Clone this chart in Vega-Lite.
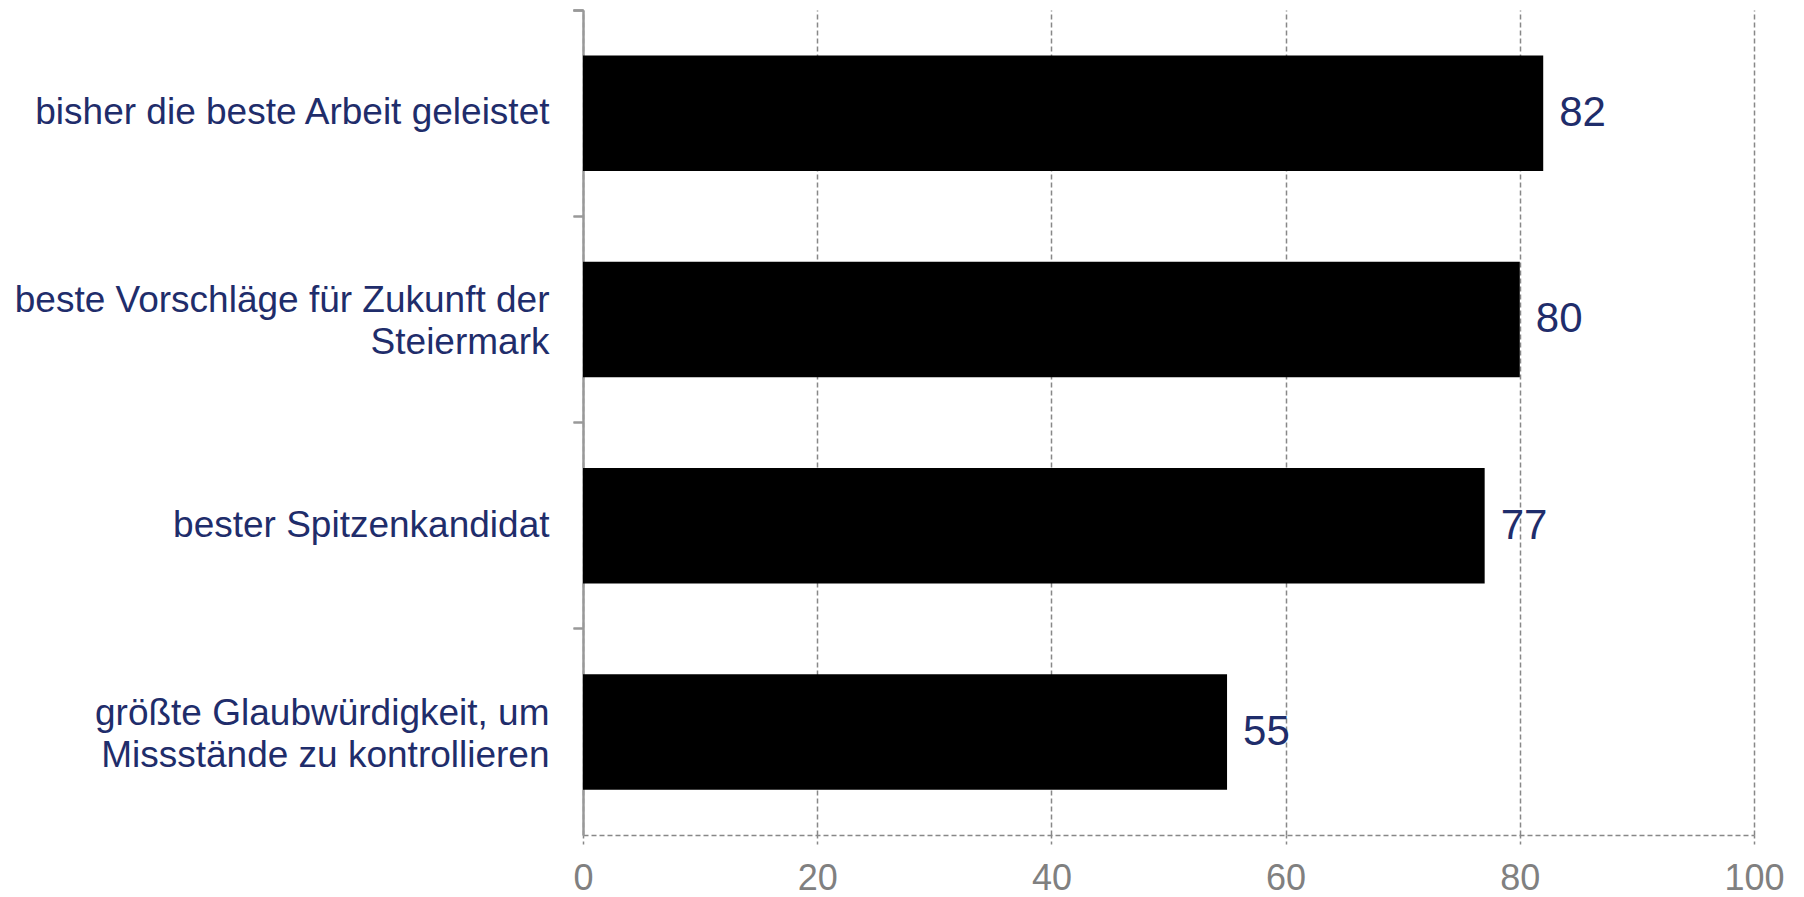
{
  "$schema": "https://vega.github.io/schema/vega-lite/v6.json",
  "width": 1171,
  "height": 825,
  "autosize": "none",
  "padding": {"left": 583, "top": 10, "right": 50, "bottom": 62},
  "background": "white",
  "data": {"values": [
    {"aussage": "bisher die beste Arbeit geleistet", "wert": 82},
    {"aussage": "beste Vorschläge für Zukunft der\nSteiermark", "wert": 80},
    {"aussage": "bester Spitzenkandidat", "wert": 77},
    {"aussage": "größte Glaubwürdigkeit, um\nMissstände zu kontrollieren", "wert": 55}
  ]},
  "config": {"view": {"stroke": null}, "font": "Liberation Sans"},
  "resolve": {"axis": {"y": "independent"}},
  "layer": [
    {
      "mark": {"type": "bar", "color": "black", "height": {"band": 0.56}},
      "encoding": {
        "y": {
          "field": "aussage", "type": "nominal", "sort": null,
          "scale": {"paddingInner": 0, "paddingOuter": 0},
          "axis": {
            "orient": "left", "title": null, "grid": false,
            "domainColor": "#999999", "domainWidth": 2,
            "tickColor": "#999999", "tickWidth": 2, "tickSize": 10,
            "bandPosition": 0, "tickExtra": true,
            "labelFontSize": 37, "labelColor": "#1F2D6B",
            "labelLimit": 0, "labelLineHeight": 42, "labelPadding": 24,
            "labelExpr": "indexof(datum.label, '\\n') >= 0 ? '' : datum.label"
          }
        },
        "x": {
          "field": "wert", "type": "quantitative",
          "scale": {"domain": [0, 100], "nice": false},
          "axis": {
            "title": null, "values": [0, 20, 40, 60, 80, 100],
            "grid": true, "gridDash": [5, 3], "gridColor": "#888888", "gridWidth": 1.5,
            "domainDash": [5, 3], "domainColor": "#888888", "domainWidth": 1.5,
            "tickDash": [3, 3], "tickColor": "#888888", "tickWidth": 1.5, "tickSize": 11,
            "labelFlush": false,
            "labelFontSize": 36, "labelColor": "#808080", "labelPadding": 15
          }
        }
      }
    },
    {
      "mark": {"type": "text", "align": "left", "baseline": "middle", "dx": 16, "fontSize": 42, "color": "#1F2D6B"},
      "encoding": {
        "y": {
          "field": "aussage", "type": "nominal", "sort": null,
          "axis": {
            "orient": "left", "title": null, "grid": false,
            "domainColor": "#999999", "domainWidth": 2,
            "tickColor": "#999999", "tickWidth": 2, "tickSize": 10,
            "bandPosition": 0, "tickExtra": true,
            "labelFontSize": 37, "labelColor": "#1F2D6B",
            "labelLimit": 0, "labelLineHeight": 42, "labelPadding": 24,
            "labelOffset": -18,
            "labelExpr": "indexof(datum.label, '\\n') < 0 ? '' : (indexof(datum.label, 'Steiermark') >= 0 ? ['beste Vorschläge für Zukunft der', 'Steiermark\\u00a0\\u00a0\\u00a0\\u00a0\\u00a0\\u00a0\\u00a0\\u00a0\\u00a0\\u00a0\\u00a0\\u00a0\\u00a0\\u00a0\\u00a0\\u00a0\\u00a0'] : split(datum.label, '\\n'))"
          }
        },
        "x": {"field": "wert", "type": "quantitative"},
        "text": {"field": "wert", "type": "quantitative"}
      }
    }
  ]
}
